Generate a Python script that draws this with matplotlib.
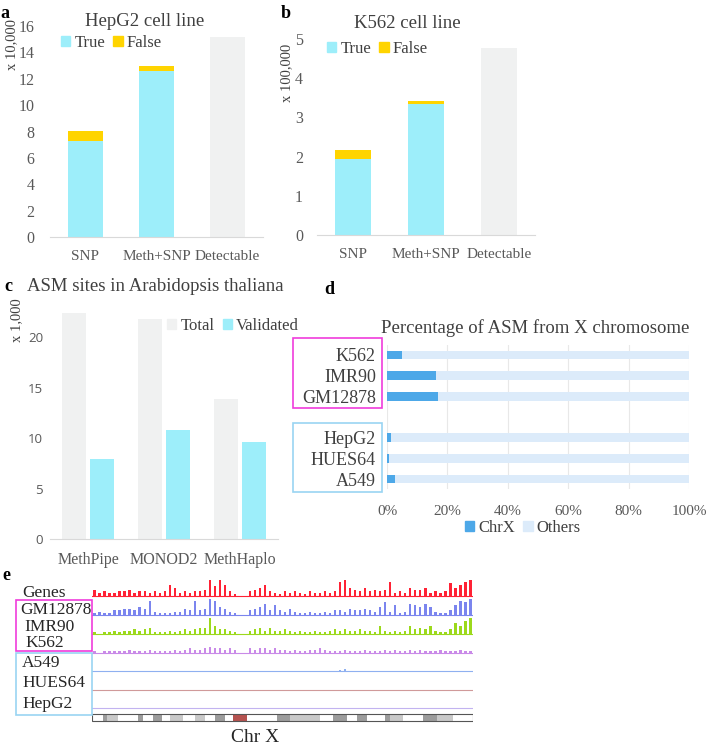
import matplotlib
matplotlib.use("Agg")
import matplotlib.pyplot as plt
from matplotlib.patches import Rectangle, Patch
import numpy as np

W, H = 707, 749
plt.rcParams['font.family'] = ['Liberation Serif', 'DejaVu Serif']

TXT = '#404040'
TICK = '#595959'
CYAN = '#9DEEFA'
YELLOW = '#FFD400'
LGRAY = '#F0F1F1'
CHRX = '#4DA8E8'
OTHERS = '#DCEBFA'
MAGENTA = '#F03CDC'
LBLUE = '#99D4F2'

# ---- data ----
ab_cats = ['SNP', 'Meth+SNP', 'Detectable']
hepg2_true = [7.28, 12.58]
hepg2_false = [0.76, 0.38]
hepg2_detectable = 15.17
k562_true = [1.94, 3.34]
k562_false = [0.23, 0.08]
k562_detectable = 4.77

c_tools = ['MethPipe', 'MONOD2', 'MethHaplo']
c_total = [22.4, 21.8, 13.9]
c_validated = [7.9, 10.8, 9.6]

d_cells = ['K562', 'IMR90', 'GM12878', 'HepG2', 'HUES64', 'A549']
d_rows = [0, 1, 2, 4, 5, 6]
d_chrx = [5.1, 16.1, 17.0, 1.2, 0.7, 2.5]

e_tracks = ['Genes', 'GM12878', 'IMR90', 'K562', 'A549', 'HUES64', 'HepG2']
genes = [4, 2, 3, 2, 2, 3, 3, 4, 2, 3, 3, 2, 3, 2, 3, 7, 5, 2, 3, 2, 3, 3, 4,
         10, 6, 10, 7, 3, 1, 0, 0, 3, 4, 5, 7, 3, 2, 1, 3, 2, 3, 2, 1, 3, 2, 2,
         3, 2, 3, 9, 10, 5, 4, 3, 5, 3, 4, 3, 4, 9, 2, 3, 2, 5, 4, 4, 5, 2, 3,
         2, 3, 8, 5, 7, 9, 10]
gm12878 = [1, 2, 1, 1, 3, 3, 4, 4, 3, 5, 4, 9, 2, 1, 1, 1, 2, 2, 4, 3, 9, 3,
           4, 10, 9, 5, 4, 2, 1, 0, 0, 3, 4, 5, 7, 3, 6, 3, 2, 4, 2, 1, 1, 2,
           1, 1, 2, 1, 3, 3, 2, 4, 3, 3, 4, 3, 2, 5, 8, 2, 6, 1, 2, 7, 6, 5, 7,
           5, 2, 1, 1, 3, 6, 9, 8, 10]
imr90 = [1, 0, 1, 1, 2, 1, 2, 2, 3, 2, 3, 4, 1, 1, 1, 2, 1, 2, 3, 2, 3, 4, 4,
         10, 5, 3, 3, 2, 1, 0, 0, 2, 3, 4, 2, 4, 2, 2, 3, 2, 1, 2, 1, 1, 2, 1,
         1, 2, 3, 2, 3, 2, 2, 3, 2, 2, 1, 5, 2, 1, 2, 1, 2, 5, 3, 4, 3, 5, 2,
         1, 1, 3, 7, 5, 8, 10]
k562 = [1, 0, 1, 1, 1, 1, 1, 2, 1, 1, 1, 2, 1, 1, 1, 1, 2, 1, 2, 3, 2, 2, 3,
        4, 3, 3, 2, 3, 2, 0, 0, 3, 2, 3, 3, 2, 3, 2, 2, 1, 2, 1, 1, 2, 2, 3, 2,
        1, 1, 1, 2, 1, 1, 1, 2, 1, 1, 1, 2, 1, 2, 1, 1, 2, 1, 2, 1, 1, 1, 2, 1,
        1, 1, 2, 1, 1]
a549 = [0, 0, 0.3, 0, 0, 0.3, 0, 0, 0.3, 0, 0, 0, 0.3, 0, 0, 0.3, 0, 0, 0.3,
        0, 0, 0.3, 0, 0.3, 0, 0, 0, 0.3, 0, 0, 0, 0.3, 0, 0, 0.3, 0, 0, 0, 0.3,
        0, 0, 0, 0.3, 0, 0, 0, 0.3, 0, 0, 0.5, 1.2, 0, 0, 0.3, 0, 0, 0.3, 0, 0,
        0, 0.3, 0, 0, 0.3, 0, 0, 0, 0.3, 0, 0, 0.3, 0, 0, 0.3, 0, 0]
hues64 = [0, 0, 0, 0, 0, 0, 0, 0, 0.3, 0, 0, 0, 0, 0, 0, 0, 0, 0, 0, 0, 0,
          0.3, 0, 0, 0, 0, 0, 0, 0, 0, 0, 0, 0, 0, 0, 0, 0, 0.3, 0, 0, 0, 0,
          0, 0, 0, 0, 0, 0, 0, 0, 0, 0, 0, 0, 0, 0.3, 0, 0, 0, 0, 0, 0, 0, 0,
          0, 0, 0, 0.3, 0, 0, 0, 0, 0, 0, 0, 0]
hepg2 = [0, 0, 0, 0, 0, 0, 0, 0, 0, 0, 0, 0, 0, 0, 0, 0, 0, 0, 0, 0, 0.3, 0,
         0, 0, 0, 0, 0, 0, 0, 0, 0, 0, 0, 0, 0, 0, 0, 0, 0, 0, 0, 0, 0, 0, 0,
         0, 0, 0, 0, 0, 0, 0, 0, 0, 0, 0, 0, 0, 0, 0, 0, 0, 0, 0, 0, 0, 0, 0,
         0, 0, 0, 0, 0, 0, 0, 0]
e_values = [genes, gm12878, imr90, k562, a549, hues64, hepg2]
e_colors = ['#FF2235', '#7B85EE', '#9CD91C', '#C98AE8', '#8FB0F0', '#D09A9A', '#C2B3F0']

# chromosome X ideogram bands (edges in image units) and shade
band_edges = [6, 40, 50, 85, 145, 160, 190, 215, 240, 280, 315, 345, 375, 405,
              430, 470, 500, 560, 600, 640, 690, 730, 770, 800, 830, 860, 885,
              900, 940, 960, 1000, 1040, 1090, 1149]
band_shade = ['w', 'g', 'l', 'w', 'g', 'w', 'g', 'w', 'l', 'w', 'l', 'w', 'g',
              'w', 'c', 'w', 'w', 'g', 'l', 'l', 'w', 'g', 'w', 'g', 'w', 'w',
              'g', 'l', 'w', 'w', 'g', 'l', 'w']
shade_color = {'w': 'white', 'g': '#9C9C9C', 'l': '#C9C9C9', 'c': '#B5524F'}


fig = plt.figure(figsize=(W / 100, H / 100), dpi=100)


def px_axes(l, t, r, b):
    return fig.add_axes([l / W, 1 - b / H, (r - l) / W, (b - t) / H])


def ftext(x, y, s, **kw):
    kw.setdefault('color', TXT)
    return fig.text(x / W, 1 - y / H, s, **kw)


def style_bar_axes(ax):
    for s in ['left', 'top', 'right']:
        ax.spines[s].set_visible(False)
    ax.spines['bottom'].set_color('#D9D9D9')
    ax.tick_params(length=0, colors=TICK, labelsize=11.5)


def square_legend(handles, x, y):
    fig.legend(handles=handles, loc='center left',
               bbox_to_anchor=(x / W, 1 - y / H), ncol=len(handles),
               frameon=False, fontsize=12, handlelength=0.55, handleheight=0.55,
               handletextpad=0.25, columnspacing=0.5, borderpad=0,
               borderaxespad=0, labelcolor=TXT)


# ---- panel a ----
ax = px_axes(50, 26, 263, 237)
x = np.arange(3)
ax.bar(x[:2], hepg2_true, width=0.5, color=CYAN)
ax.bar(x[:2], hepg2_false, bottom=hepg2_true, width=0.5, color=YELLOW)
ax.bar(x[2], hepg2_detectable, width=0.5, color=LGRAY)
ax.set_xlim(-0.5, 2.5)
ax.set_ylim(0, 16)
ax.set_yticks(range(0, 17, 2))
ax.set_xticks(x)
ax.set_xticklabels(ab_cats)
style_bar_axes(ax)
ax.tick_params(axis='x', labelsize=11)
ax.tick_params(axis='y', pad=11)
ax.tick_params(axis='x', pad=9)
ftext(145, 22, 'HepG2 cell line', fontsize=13.5, ha='center', va='center')
ftext(12, 45, 'x 10,000', fontsize=10.5, rotation=90, ha='center', va='center')
square_legend([Patch(color=CYAN, label='True'), Patch(color=YELLOW, label='False')], 61, 43)
ftext(5, 14, 'a', fontsize=13, fontweight='bold', color='black', ha='center', va='center')

# ---- panel b ----
ax = px_axes(317, 39, 535, 235)
ax.bar(x[:2], k562_true, width=0.5, color=CYAN)
ax.bar(x[:2], k562_false, bottom=k562_true, width=0.5, color=YELLOW)
ax.bar(x[2], k562_detectable, width=0.5, color=LGRAY)
ax.set_xlim(-0.5, 2.5)
ax.set_ylim(0, 5)
ax.set_yticks(range(0, 6))
ax.set_xticks(x)
ax.set_xticklabels(ab_cats)
style_bar_axes(ax)
ax.tick_params(axis='x', labelsize=11)
ax.tick_params(axis='y', pad=10)
ax.tick_params(axis='x', pad=9)
ftext(407, 23, 'K562 cell line', fontsize=13.5, ha='center', va='center')
ftext(287, 73, 'x 100,000', fontsize=10.5, rotation=90, ha='center', va='center')
square_legend([Patch(color=CYAN, label='True'), Patch(color=YELLOW, label='False')], 327, 49)
ftext(286, 14, 'b', fontsize=13, fontweight='bold', color='black', ha='center', va='center')

# ---- panel c ----
ax = px_axes(50, 312, 278, 539)
xc = np.arange(3)
ax.bar(xc - 0.18, c_total, width=0.32, color=LGRAY, label='Total')
ax.bar(xc + 0.18, c_validated, width=0.32, color=CYAN, label='Validated')
ax.set_xlim(-0.5, 2.5)
ax.set_ylim(0, 22.5)
ax.set_yticks(range(0, 21, 5))
ax.set_xticks(xc)
ax.set_xticklabels(c_tools)
style_bar_axes(ax)
for t in ax.get_yticklabels():
    t.set_fontfamily('Open Sans')
    t.set_fontsize(9.5)
ax.tick_params(axis='y', pad=5)
ax.tick_params(axis='x', pad=9)
ftext(155, 287, 'ASM sites in Arabidopsis thaliana', fontsize=13.5, ha='center', va='center')
ftext(17, 320, 'x 1,000', fontsize=10.5, rotation=90, ha='center', va='center')
square_legend([Patch(color=LGRAY, label='Total'), Patch(color=CYAN, label='Validated')], 167, 326)
ftext(8, 287, 'c', fontsize=13, fontweight='bold', color='black', ha='center', va='center')

# ---- panel d ----
ax = px_axes(387, 344.6, 689, 489.4)
others = [100 - v for v in d_chrx]
ax.barh(d_rows, d_chrx, height=0.42, color=CHRX, label='ChrX')
ax.barh(d_rows, others, left=d_chrx, height=0.42, color=OTHERS, label='Others')
ax.set_xlim(0, 100)
ax.set_ylim(6.5, -0.5)
ax.set_xticks(range(0, 101, 20))
ax.set_xticklabels([f'{v}%' for v in range(0, 101, 20)])
ax.set_yticks(d_rows)
ax.set_yticklabels(d_cells)
for s in ax.spines.values():
    s.set_visible(False)
ax.grid(axis='x', color='#E8E8E8', lw=0.8)
ax.set_axisbelow(True)
ax.tick_params(length=0, colors=TICK)
ax.tick_params(axis='x', labelsize=11, pad=11)
ax.tick_params(axis='y', labelsize=13, pad=8, labelcolor=TXT)
ftext(535, 328, 'Percentage of ASM from X chromosome', fontsize=13.5, ha='center', va='center')
square_legend([Patch(color=CHRX, label='ChrX'), Patch(color=OTHERS, label='Others')], 465, 528)
ftext(329, 290, 'd', fontsize=13, fontweight='bold', color='black', ha='center', va='center')
fig.patches.append(Rectangle((293 / W, 1 - 408 / H), 89 / W, 70 / H, fill=False,
                             ec=MAGENTA, lw=1.2, transform=fig.transFigure))
fig.patches.append(Rectangle((293 / W, 1 - 492 / H), 89 / W, 69 / H, fill=False,
                             ec=LBLUE, lw=1.2, transform=fig.transFigure))

# ---- panel e ----
ax = px_axes(92, 580, 473, 723)
ax.set_xlim(0, 76)
ax.set_ylim(0, 143)
ax.axis('off')
baselines = [127, 108, 89, 70, 52, 33, 15]
xe = np.arange(76) + 0.5
for vals, col, base in zip(e_values, e_colors, baselines):
    ax.bar(xe, np.array(vals) * 1.6, bottom=base, width=0.45, color=col, lw=0)
    ax.plot([0, 76], [base, base], color=col, lw=0.8)

bx = (np.array(band_edges) - 6) / (1149 - 6) * 76
for i, sh in enumerate(band_shade):
    ax.add_patch(Rectangle((bx[i], 2), bx[i + 1] - bx[i], 7, fc=shade_color[sh], ec='none'))
ax.add_patch(Rectangle((0, 2), 76, 7, fill=False, ec='#555555', lw=0.8))

label_y = [593, 610, 627, 643, 663, 683, 704]
label_x = [22, 20, 24, 25, 22, 22, 22]
for name, lx, ly in zip(e_tracks, label_x, label_y):
    ftext(lx, ly, name, fontsize=12.5, ha='left', va='center', color='#262626')
fig.patches.append(Rectangle((16 / W, 1 - 651 / H), 76 / W, 51 / H, fill=False,
                             ec=MAGENTA, lw=1.2, transform=fig.transFigure))
fig.patches.append(Rectangle((16 / W, 1 - 715 / H), 76 / W, 62 / H, fill=False,
                             ec=LBLUE, lw=1.2, transform=fig.transFigure))
ftext(255, 737, 'Chr X', fontsize=14, ha='center', va='center', color='#262626')
ftext(6, 575, 'e', fontsize=13, fontweight='bold', color='black', ha='center', va='center')

fig.savefig('out.png', dpi=100)
